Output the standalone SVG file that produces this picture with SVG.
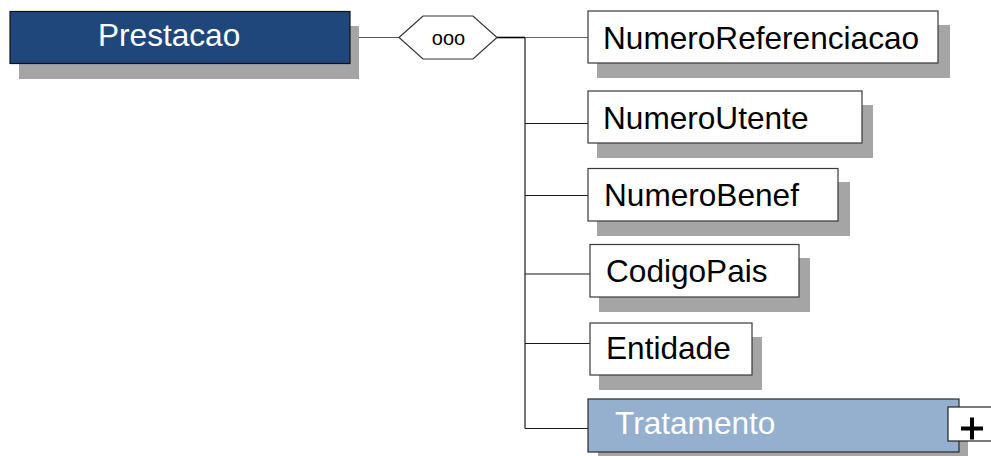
<svg xmlns="http://www.w3.org/2000/svg" width="991" height="456" viewBox="0 0 991 456">
  <style>
    .shadow { fill: #a5a5a5; }
    .box { fill: #ffffff; stroke: #3a3a3a; stroke-width: 1.2; }
    .root { fill: #20477c; stroke: #111111; stroke-width: 1.2; }
    .complex { fill: #95afcf; stroke: #2a2a2a; stroke-width: 1.2; }
    .label { font-family: "Liberation Sans", Arial, sans-serif; font-size: 31.6px; fill: #000000; }
    .light { fill: #ffffff; }
    .wire { fill: none; stroke: #1a1a1a; stroke-width: 1.2; }
  </style>
  <rect width="991" height="456" fill="#ffffff"/>

  <!-- connectors -->
  <g id="connectors">
    <line class="wire" x1="350" y1="37.5" x2="399" y2="37.5" style="stroke:#555"/>
    <line class="wire" x1="497" y1="37.5" x2="525" y2="37.5" style="stroke:#000;stroke-width:1.6"/>
    <line class="wire" x1="525" y1="37" x2="525" y2="428.5"/>
    <line class="wire" x1="525" y1="37.5" x2="588" y2="37.5" style="stroke:#666"/>
    <line class="wire" x1="525" y1="123.5" x2="588" y2="123.5"/>
    <line class="wire" x1="525" y1="195.5" x2="588" y2="195.5"/>
    <line class="wire" x1="525" y1="274" x2="590" y2="274"/>
    <line class="wire" x1="525" y1="343.5" x2="590" y2="343.5"/>
    <line class="wire" x1="525" y1="428.5" x2="588" y2="428.5"/>
  </g>

  <!-- root element -->
  <g id="Prestacao">
    <rect class="shadow" x="19" y="26" width="340" height="53"/>
    <rect class="root" x="10" y="11.5" width="340" height="52"/>
    <text class="label light" x="98" y="45.5">Prestacao</text>
  </g>

  <!-- sequence compositor -->
  <g id="sequence">
    <polygon points="399,37.5 423,16 473,16 497,37.5 473,59 423,59" fill="#ffffff" stroke="#333333" stroke-width="1.2"/>
    <text x="448.5" y="44.5" text-anchor="middle" font-family="Liberation Sans, Arial, sans-serif" font-size="20" fill="#000">ooo</text>
  </g>

  <g id="NumeroReferenciacao">
    <rect class="shadow" x="597" y="25" width="353" height="53"/>
    <rect class="box" x="588" y="11" width="350" height="52"/>
    <text class="label" x="603" y="49">NumeroReferenciacao</text>
  </g>

  <g id="NumeroUtente">
    <rect class="shadow" x="597" y="105" width="276" height="53"/>
    <rect class="box" x="588" y="91" width="274" height="52"/>
    <text class="label" x="603" y="128.5">NumeroUtente</text>
  </g>

  <g id="NumeroBenef">
    <rect class="shadow" x="597" y="182" width="253" height="54"/>
    <rect class="box" x="588" y="168.5" width="250" height="52.5"/>
    <text class="label" x="604" y="206">NumeroBenef</text>
  </g>

  <g id="CodigoPais">
    <rect class="shadow" x="599" y="258" width="211" height="54"/>
    <rect class="box" x="590" y="244.5" width="209" height="52.5"/>
    <text class="label" x="606" y="282">CodigoPais</text>
  </g>

  <g id="Entidade">
    <rect class="shadow" x="599" y="337" width="163" height="53"/>
    <rect class="box" x="590" y="323" width="162" height="52"/>
    <text class="label" x="606" y="359">Entidade</text>
  </g>

  <g id="Tratamento">
    <rect class="shadow" x="598" y="413" width="370" height="53"/>
    <rect class="complex" x="588" y="399" width="371" height="53"/>
    <text class="label light" x="615" y="434">Tratamento</text>
    <rect x="948" y="407" width="50" height="34" fill="#ffffff" stroke="#222222" stroke-width="1.2"/>
    <path d="M961 428.5 H983 M972 417.5 V439.5" stroke="#000000" stroke-width="4" fill="none"/>
  </g>
</svg>
